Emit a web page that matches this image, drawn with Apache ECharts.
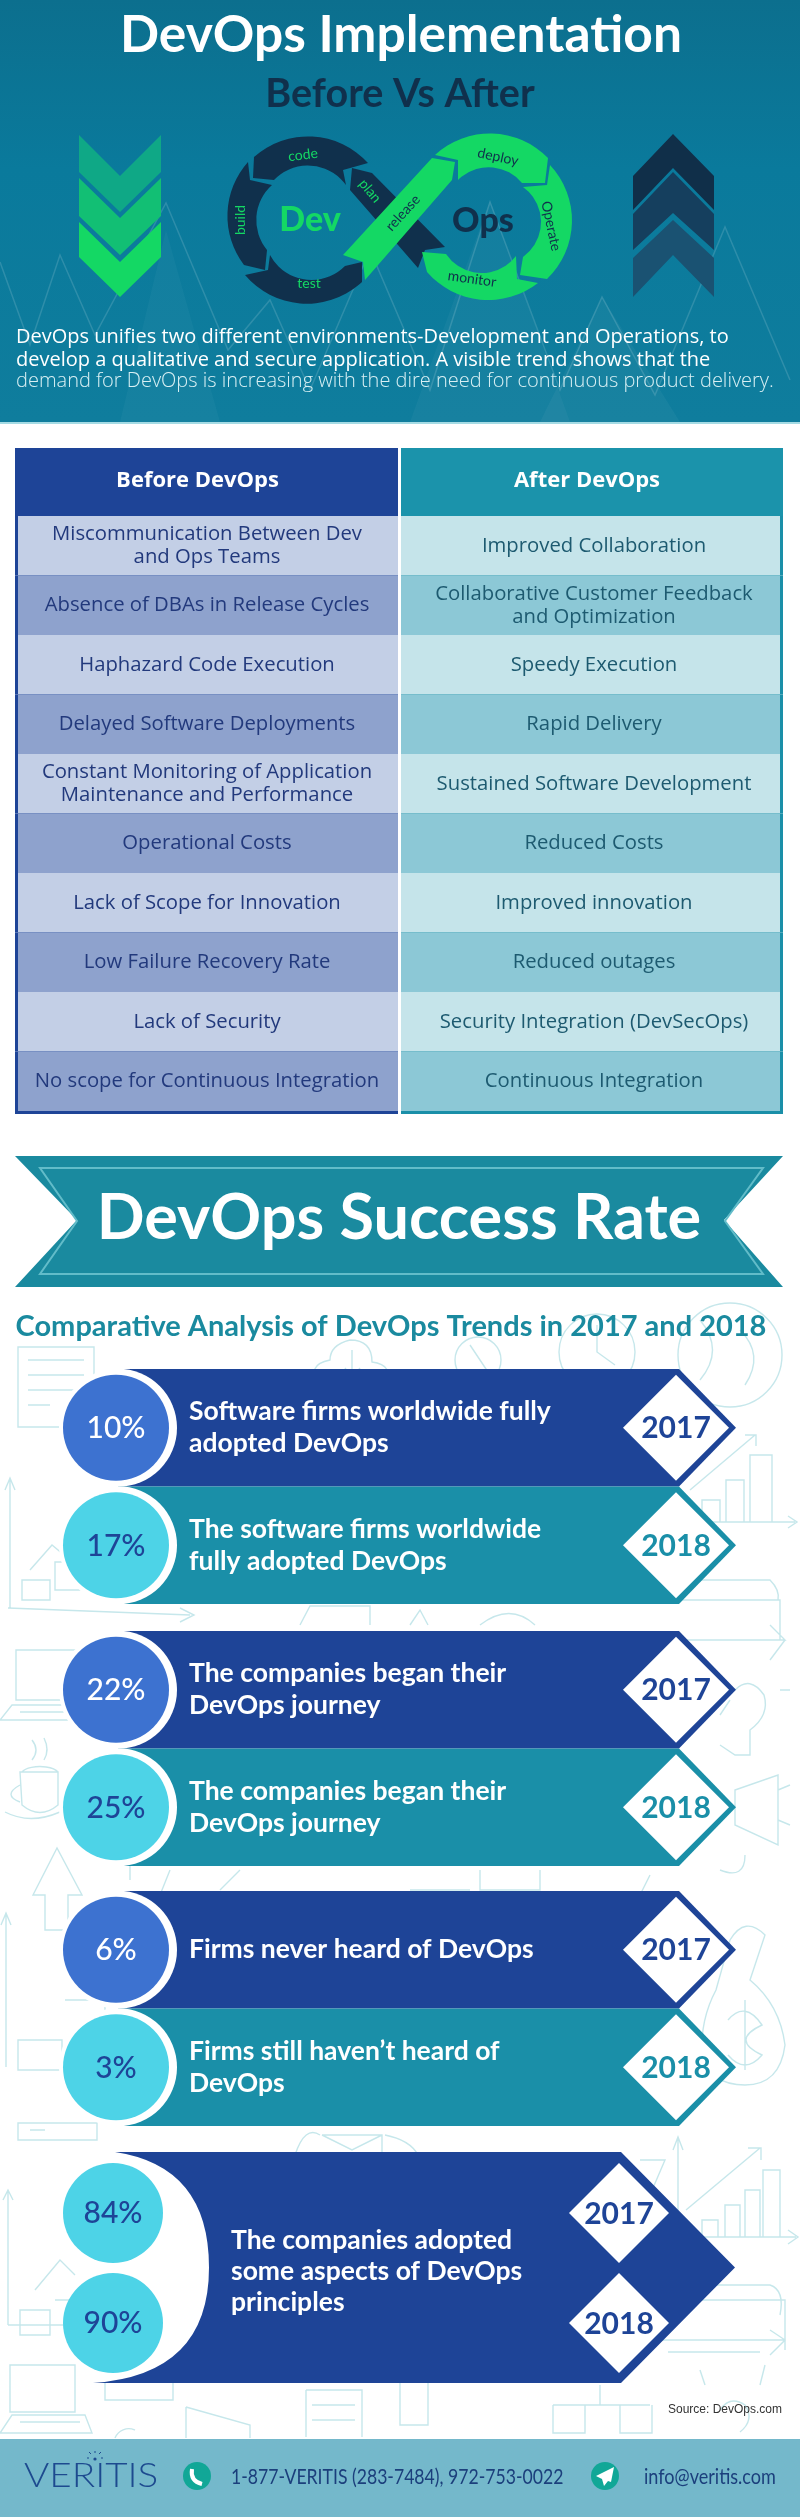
<!DOCTYPE html>
<html lang="en">
<head>
    <meta charset="UTF-8">
    <title>DevOps Implementation</title>
    <style>
        html, body {
            margin: 0;
            height: 100%;
            background: #fff;
        }
        #main {
            width: 800px;
            height: 2517px;
        }
    </style>
    <script src="https://cdn.jsdelivr.net/npm/echarts@6/dist/echarts.min.js"></script>
</head>
<body>
    <div id="main"></div>
    <script>
        // table
        const tableColumns = ['Before DevOps', 'After DevOps']
        const beforeItems = [
            'Miscommunication Between Dev\nand Ops Teams',
            'Absence of DBAs in Release Cycles',
            'Haphazard Code Execution',
            'Delayed Software Deployments',
            'Constant Monitoring of Application\nMaintenance and Performance',
            'Operational Costs',
            'Lack of Scope for Innovation',
            'Low Failure Recovery Rate',
            'Lack of Security',
            'No scope for Continuous Integration'
        ]
        const afterItems = [
            'Improved Collaboration',
            'Collaborative Customer Feedback\nand Optimization',
            'Speedy Execution',
            'Rapid Delivery',
            'Sustained Software Development',
            'Reduced Costs',
            'Improved innovation',
            'Reduced outages',
            'Security Integration (DevSecOps)',
            'Continuous Integration'
        ]

        // comparison rows, two per group
        const years = ['2017', '2018']
        const groupLabels = [
            ['Software firms worldwide fully\nadopted DevOps', 'The software firms worldwide\nfully adopted DevOps'],
            ['The companies began their\nDevOps journey', 'The companies began their\nDevOps journey'],
            ['Firms never heard of DevOps', 'Firms still haven\u2019t heard of\nDevOps']
        ]
        const groupPercents = [
            [10, 17],
            [22, 25],
            [6, 3]
        ]
        const adoptedLabel = 'The companies adopted\nsome aspects of DevOps\nprinciples'
        const adoptedPercents = [84, 90]

        const BLUE = '#1e4497'
        const TEAL = '#1a8fa8'
        const FONT = 'Lato, "Noto Sans", sans-serif'
        const WIDE_FONT = '"Open Sans", "Noto Sans", sans-serif'

        const chartDom = document.getElementById('main')
        const myChart = echarts.init(chartDom)

        function text (str, x, y, size, fill, extra) {
            return {
                type: 'text',
                x, y,
                rotation: extra && extra.rot ? extra.rot * Math.PI / 180 : 0,
                scaleX: (extra && extra.scaleX) || 1,
                style: {
                    text: str,
                    x: 0,
                    y: 0,
                    fill,
                    align: (extra && extra.align) || 'center',
                    verticalAlign: 'middle',
                    fontFamily: (extra && extra.family) || FONT,
                    fontSize: size,
                    fontWeight: (extra && extra.weight) || 'normal',
                    lineHeight: extra && extra.lineHeight
                }
            }
        }
        function fillPath (d, fill) {
            return { type: 'path', shape: { pathData: d }, style: { fill } }
        }
        function linePath (d, stroke, width) {
            return { type: 'path', shape: { pathData: d }, style: { fill: 'none', stroke, lineWidth: width } }
        }

        // ---- header panel ----
        const header = [
            {
                type: 'rect', shape: { x: 0, y: 0, width: 800, height: 422 },
                style: {
                    fill: new echarts.graphic.LinearGradient(0, 0, 0, 1, [
                        { offset: 0, color: '#0c6f8e' },
                        { offset: 0.4, color: '#0a7a9c' },
                        { offset: 1, color: '#0f7d9d' }
                    ])
                }
            },
            { type: 'rect', shape: { x: 0, y: 422, width: 800, height: 2 }, style: { fill: '#a5dbe4' } },
            fillPath('M410 422 L490 200 L570 422 Z', 'rgba(255,255,255,0.035)'),
            fillPath('M120 422 L166 230 L220 422 Z', 'rgba(255,255,255,0.03)'),
            fillPath('M540 422 L602 297 L680 422 Z', 'rgba(255,255,255,0.04)'),
            linePath('M0 262 L30 345 L60 255 L95 335 L166 203 L228 350 L270 300 L310 390 L370 250 L430 390 L490 202 L560 390 L602 297 L655 395 L725 227 L790 380', 'rgba(255,255,255,0.14)', 1.5),
            fillPath('M79 135 L120 176 L161 135 V172 L120 212 L79 172 Z', '#0fa886'),
            fillPath('M79 178 L120 218 L161 178 V216 L120 255 L79 216 Z', '#12bf74'),
            fillPath('M79 222 L120 262 L161 222 V257 L120 297 L79 257 Z', '#14d864'),
            fillPath('M633 176 L673 134 L714 176 V210 L673 168 L633 210 Z', '#102f49'),
            fillPath('M633 214 L673 172 L714 214 V250 L673 213 L633 250 Z', '#153f5e'),
            fillPath('M633 258 L673 220 L714 258 V297 L673 255 L633 297 Z', '#1a5272'),
            // devops loop
            fillPath('M352 168 L372 173 L445 247 L425 250 L418 268 L398 245 L350 190 Z', '#10304c'),
            fillPath('M368 163 A81 81 0 0 0 254 157 L253 178 L274 180 A47 47 0 0 1 346 185 L343 170 Z', '#10304c'),
            fillPath('M248 162 A81 81 0 0 0 244 265 L265 270 L267 250 A47 47 0 0 1 272 185 L250 180 Z', '#10304c'),
            fillPath('M245 275 A81 81 0 0 0 362 282 L362 262 L345 266 A47 47 0 0 1 270 255 L268 270 Z', '#10304c'),
            fillPath('M435 155 A81 81 0 0 1 548 158 L545 183 L522 183 A43 43 0 0 0 458 180 L458 160 Z', '#14d864'),
            fillPath('M550 165 A81 81 0 0 1 547 279 L520 275 L523 257 A43 43 0 0 0 523 187 L547 185 Z', '#14d864'),
            fillPath('M538 283 A81 81 0 0 1 427 272 L422 252 L446 254 A43 43 0 0 0 516 256 L517 279 Z', '#14d864'),
            fillPath('M343 255 L432 158 L455 162 L452 180 L365 280 L363 262 Z', '#14d864'),
            text('code', 303, 155, 14, '#14d864', { rot: 7 }),
            text('plan', 370, 191, 14, '#14d864', { rot: -50 }),
            text('build', 240, 220, 14, '#14d864', { rot: 90 }),
            text('test', 309, 283, 14, '#14d864'),
            text('release', 403, 213, 14, '#10304c', { rot: 48 }),
            text('deploy', 498, 157, 14, '#10304c', { rot: -12 }),
            text('Operate', 551, 226, 14, '#10304c', { rot: -78 }),
            text('monitor', 472, 279, 14, '#10304c', { rot: -8 }),
            text('Dev', 310, 220, 34, '#14d864', { weight: 900 }),
            text('Ops', 483, 221, 34, '#10304c', { weight: 900 }),
            text('DevOps Implementation', 401, 35, 51.5, '#fff', { weight: 700 }),
            text('Before Vs After', 400, 94, 39.5, '#10304c', { weight: 700 }),
            text('DevOps unifies two different environments-Development and Operations, to', 16, 337, 20, '#fff', { align: 'left', family: WIDE_FONT }),
            text('develop a qualitative and secure application. A visible trend shows that the', 16, 360, 20, '#fff', { align: 'left', family: WIDE_FONT }),
            text('demand for DevOps is increasing with the dire need for continuous product delivery.', 16, 381, 20, '#d9f0f4', { align: 'left', family: WIDE_FONT, weight: 300 })
        ]

        // ---- ribbon and headings ----
        const ribbon = [
            fillPath('M15 1156 H783 L724 1220 L783 1287 H15 L77 1220 Z', '#1a8a9f'),
            linePath('M40 1168 H763 L725 1221 L763 1274 H40 L77 1221 Z', '#62bcc9', 2),
            text('DevOps Success Rate', 399, 1219, 63, '#fff', { weight: 700 }),
            text('Comparative Analysis of DevOps Trends in 2017 and 2018', 391, 1327, 29, '#1a8a9f', { weight: 700 })
        ]

        // ---- faint doodles behind the rows ----
        const DOODLE = '#c6e7eb'
        const doodlePaths = [
            'M18 1347 H94 V1427 H18 Z M28 1360 H84 M28 1375 H84 M28 1390 H84 M28 1405 H50',
            'M350 1340 Q372 1340 372 1362 Q395 1365 385 1385 H320 Q305 1365 330 1360 Q330 1345 350 1340 Z M352 1350 V1375 M345 1368 L352 1378 L360 1368',
            'M455 1360 A23 23 0 1 1 501 1360 A23 23 0 1 1 455 1360 M495 1375 L515 1395 M470 1345 L490 1375',
            'M559 1352 A38 38 0 1 1 635 1352 A38 38 0 1 1 559 1352 M597 1325 V1352 L615 1365',
            'M678 1355 A52 52 0 1 1 782 1355 A52 52 0 1 1 678 1355 M700 1320 Q725 1350 700 1380 M740 1330 Q765 1355 745 1385',
            'M10 1480 V1608 M5 1490 L10 1478 L15 1490 M8 1608 L190 1615 M180 1608 L194 1615 L180 1622',
            'M22 1600 H50 V1580 H22 Z M55 1590 H80 V1562 H55 Z M85 1590 H115 V1570 H85 Z M30 1570 L52 1545 L70 1560',
            'M690 1490 L755 1435 M745 1435 H756 V1446 M702 1522 V1500 H720 V1522 M726 1522 V1480 H744 V1522 M750 1522 V1455 H772 V1522 M670 1522 H795 M788 1516 L797 1522 L788 1528',
            'M665 1600 H780 V1640 H668 M690 1580 H770 Q780 1590 778 1600 M720 1640 H785 L770 1625 M785 1640 L770 1660',
            'M300 1625 L310 1606 H370 V1625 M410 1625 L420 1610 L428 1625 M480 1625 Q510 1602 535 1625',
            'M16 1650 H80 V1700 H16 Z M0 1720 L12 1705 H86 L90 1720 Z M20 1712 H80',
            'M20 1772 H58 V1805 Q40 1820 22 1805 Z M20 1785 Q2 1795 20 1802 M22 1772 A19 8 0 0 1 58 1772 M32 1740 Q40 1750 32 1760 M44 1738 Q50 1750 44 1760 M5 1812 Q30 1825 60 1812',
            'M735 1690 Q750 1675 764 1695 Q770 1715 750 1730 V1755 H735 L720 1745 M780 1690 H790 M730 1700 L720 1715',
            'M735 1790 L778 1775 V1845 L735 1825 Z M778 1790 L790 1785 M778 1820 L790 1825 M720 1870 Q745 1880 745 1855',
            'M33 1895 L57 1848 L82 1895 H68 V1930 H45 V1895 Z M6 1913 V2067 M1 1925 L6 1913 L11 1925',
            'M115 1865 H130 V1880 M170 1870 L160 1895 M240 1870 L220 1890 M480 1870 V1890 H540 V1870 M410 1890 H470 M650 1875 L640 1895',
            'M18 2040 H62 V2070 H18 Z M65 2000 H105 V2060',
            'M716 1990 Q700 2020 702 2055 Q710 2085 745 2085 Q780 2085 785 2045 Q780 2005 750 1980 L765 1935 Q745 1915 730 1940 Z M745 2000 V2070 M728 2020 Q745 2000 762 2025 Q730 2040 762 2055 Q745 2075 728 2055',
            'M18 2123 H97 V2140 H18 Z M30 2130 H45',
            'M322 2135 H382 V2155 M322 2135 L352 2150 L382 2135 M295 2155 Q305 2125 320 2135 M385 2135 Q410 2140 418 2155',
            'M678 2137 V2237 M673 2150 L678 2137 L683 2150 M686 2210 L760 2148 M748 2148 H761 V2160 M702 2237 V2220 H718 V2237 M725 2237 V2205 H740 V2237 M745 2237 V2190 H760 V2237 M763 2237 V2170 H780 V2237 M678 2237 H796 M788 2230 L798 2237 L788 2244',
            'M640 2160 L665 2160 L650 2195',
            'M8 2190 V2325 M3 2200 L8 2190 L13 2200 M35 2290 L60 2260 L75 2275 M20 2310 H50 V2335 H20 Z M55 2300 H85 V2330 M8 2325 H90',
            'M640 2340 H785 V2300 H680 V2285 H770 Q785 2290 780 2315 M668 2352 H760 M785 2340 V2350 M770 2330 L785 2340 L770 2355',
            'M10 2365 H75 V2412 H10 Z M0 2433 L12 2415 H85 L92 2433 Z M20 2422 H80',
            'M105 2383 V2400 H173 V2383 M186 2407 L250 2425 V2438 M186 2407 V2438 M115 2438 A15 15 0 0 1 135 2430',
            'M306 2390 H362 V2437 M306 2390 V2437 M312 2405 H355 M312 2420 H355 M400 2383 V2425 H428 V2383',
            'M600 2385 V2405 M553 2405 H650 M553 2405 V2433 H585 V2405 M620 2405 V2433 H652 V2405',
            'M720 2410 Q730 2395 745 2405 Q755 2420 740 2432 M760 2385 L765 2365 M705 2385 L700 2370'
        ]
        const doodles = doodlePaths.map(d => linePath(d, DOODLE, 1.4))

        // ---- footer ----
        const footer = [
            { type: 'rect', shape: { x: 0, y: 2439, width: 800, height: 78 }, style: { fill: '#74b8cb' } },
            text('VERITIS', 24, 2476, 33, '#1d4a8f', { align: 'left', weight: 300, scaleX: 1.17 }),
            { type: 'circle', shape: { cx: 95, cy: 2459, r: 1.6 }, style: { fill: '#1d4a8f' } },
            linePath('M89 2458 H87 M103 2458 H101 M95 2453 V2451 M91 2454 L89 2452 M99 2454 L101 2452', '#1d4a8f', 1),
            { type: 'circle', shape: { cx: 197, cy: 2476, r: 14 }, style: { fill: '#11a797' } },
            linePath('M192 2469 Q190 2481 202 2484', '#fff', 4),
            { type: 'circle', shape: { cx: 605, cy: 2476, r: 14 }, style: { fill: '#11a797' } },
            fillPath('M614 2467 L596 2476 L602 2479 L604 2486 L608 2481 L611 2482 Z', '#fff'),
            text('1-877-VERITIS (283-7484), 972-753-0022', 231, 2477, 21.5, '#1b3f7c', { align: 'left', scaleX: 0.82 }),
            text('info@veritis.com', 644, 2477, 21.5, '#1b3f7c', { align: 'left', scaleX: 0.84 }),
            text('Source: DevOps.com', 782, 2410, 12, '#333', { align: 'right', family: '"Liberation Sans Narrow", "Liberation Sans", sans-serif' })
        ]

        function drawingSeries (children, z) {
            return {
                type: 'custom',
                coordinateSystem: 'none',
                silent: true,
                z,
                data: [[0]],
                renderItem () {
                    return { type: 'group', children }
                }
            }
        }

        // ---- table cells ----
        function renderHeaderCell (params, api) {
            const col = params.dataIndex
            const p = api.coord([col, 0])
            const size = api.size([1, 1])
            const left = col === 0 ? p[0] - size[0] / 2 : p[0] - size[0] / 2 + 2
            const width = size[0] - (col === 0 ? 1 : 2)
            return {
                type: 'group',
                children: [
                    { type: 'rect', shape: { x: left, y: p[1] - size[1] / 2, width, height: size[1] }, style: { fill: col === 0 ? BLUE : '#1b93ab' } },
                    text(tableColumns[col], col === 0 ? 197.5 : 587, p[1] - 1, 22, '#fff', { weight: 700, family: WIDE_FONT })
                ]
            }
        }
        function renderBodyCell (params, api) {
            const col = api.value(0)
            const row = api.value(1)
            const p = api.coord([col, row])
            const size = api.size([1, 1])
            const top = p[1] - size[1] / 2
            const left = p[0] - size[0] / 2 + (col === 0 ? 0 : 2)
            const width = size[0] - (col === 0 ? 1 : 2)
            const last = row === beforeItems.length - 1
            const light = row % 2 === 0
            const fills = col === 0 ? [light ? '#c3cfe6' : '#8ea2cd', BLUE] : [light ? '#c5e4ea' : '#8cc8d6', TEAL]
            const items = col === 0 ? beforeItems : afterItems
            return {
                type: 'group',
                children: [
                    { type: 'rect', shape: { x: left, y: top, width, height: size[1] + (last ? 3 : 0) }, style: { fill: fills[1] } },
                    {
                        type: 'rect',
                        shape: { x: col === 0 ? left + 3 : left, y: top, width: width - 3, height: size[1] },
                        style: { fill: fills[0] }
                    },
                    text(items[row], col === 0 ? 207 : 594, p[1], 20.3, col === 0 ? '#22397c' : '#1d5a70', { lineHeight: 23, family: WIDE_FONT })
                ]
            }
        }

        // ---- comparison rows ----
        function renderYearDiamond (cx, cy, w, h, year, color) {
            return [
                { type: 'polygon', shape: { points: [[cx - w, cy], [cx, cy - h], [cx + w, cy], [cx, cy + h]] }, style: { fill: '#fff' } },
                text(year, cx, cy + 1, 30, color, { weight: 700 })
            ]
        }
        function makeRowRenderer (group) {
            return function (params, api) {
                const i = params.dataIndex
                const p = api.coord([0, i])
                const h = api.size([0, 1])[1]
                const cy = p[1]
                const top = cy - h / 2
                const bottom = cy + h / 2
                const dark = i === 0
                const color = dark ? BLUE : TEAL
                const end = api.coord([679, i])[0]
                const tip = api.coord([736, i])[0]
                const startX = api.coord([118, i])[0]
                return {
                    type: 'group',
                    children: [
                        { type: 'polygon', shape: { points: [[startX, top], [end, top], [tip, cy], [end, bottom], [startX, bottom]] }, style: { fill: color } },
                        { type: 'circle', shape: { cx: startX, cy, r: 59 }, style: { fill: '#fff' } },
                        { type: 'circle', shape: { cx: startX - 2, cy, r: 53 }, style: { fill: dark ? '#3d72d0' : '#4dd3e7' } },
                        text(groupPercents[group][i] + '%', startX - 2, cy + 1, 30, dark ? '#fff' : BLUE, { weight: 500 }),
                        text(groupLabels[group][i], 189, cy, 26.5, '#fff', { align: 'left', weight: 700, lineHeight: 32 })
                    ].concat(renderYearDiamond(676, cy, 53, 53, years[i], color))
                }
            }
        }
        function renderAdoptedPanel (params, api) {
            const top = api.coord([0, 0])[1] - api.size([0, 1])[1] / 2 - 6
            const bottom = api.coord([0, 1])[1] + api.size([0, 1])[1] / 2 + 5
            const mid = (top + bottom) / 2
            const d = 'M115 ' + top + ' H621 L735 ' + mid + ' L621 ' + bottom + ' H93 Q209 ' + (bottom - 8) + ' 209 ' + mid + ' Q209 ' + (top + 14) + ' 115 ' + top + ' Z'
            return {
                type: 'group',
                children: [
                    { type: 'path', shape: { pathData: d }, style: { fill: BLUE } },
                    text(adoptedLabel, 231, mid + 4, 26.5, '#fff', { align: 'left', weight: 700, lineHeight: 31 })
                ]
            }
        }
        function renderAdoptedRow (params, api) {
            const i = params.dataIndex
            const cy = api.coord([0, i])[1]
            return {
                type: 'group',
                children: [
                    { type: 'circle', shape: { cx: 113, cy, r: 50 }, style: { fill: '#4dd3e7' } },
                    text(adoptedPercents[i] + '%', 113, cy, 30, BLUE, { weight: 500 })
                ].concat(renderYearDiamond(619, cy, 50, 50, years[i], BLUE))
            }
        }

        const statGrids = [
            { left: 0, right: 0, top: 1369, height: 235 },
            { left: 0, right: 0, top: 1631, height: 235 },
            { left: 0, right: 0, top: 1891, height: 235 },
            { left: 0, right: 0, top: 2158, height: 220 }
        ]
        const statAxes = statGrids.map((g, i) => ({
            x: { type: 'value', gridIndex: i + 2, min: 0, max: 800, show: false },
            y: { type: 'category', gridIndex: i + 2, data: years, inverse: true, show: false }
        }))
        const rowIndexes = years.map((y, i) => [0, i])

        const bodyCells = []
        beforeItems.forEach((item, row) => {
            bodyCells.push([0, row])
            bodyCells.push([1, row])
        })
        const rowNames = beforeItems.map((item, row) => row)

        const options = {
            animation: false,
            backgroundColor: '#fff',
            grid: [
                { left: 15, width: 768, top: 448, height: 68 },
                { left: 15, width: 768, top: 516, height: 595 }
            ].concat(statGrids),
            xAxis: [
                { type: 'category', gridIndex: 0, data: tableColumns, show: false },
                { type: 'category', gridIndex: 1, data: tableColumns, show: false }
            ].concat(statAxes.map(a => a.x)),
            yAxis: [
                { type: 'category', gridIndex: 0, data: ['header'], show: false },
                { type: 'category', gridIndex: 1, data: rowNames, inverse: true, show: false }
            ].concat(statAxes.map(a => a.y)),
            series: [
                drawingSeries(doodles, 0),
                drawingSeries(header.concat(ribbon, footer), 1),
                {
                    type: 'custom', silent: true, xAxisIndex: 0, yAxisIndex: 0, z: 2,
                    renderItem: renderHeaderCell,
                    encode: { x: 0, y: 1 },
                    data: [[0, 0], [1, 0]]
                },
                {
                    type: 'custom', silent: true, xAxisIndex: 1, yAxisIndex: 1, z: 2,
                    renderItem: renderBodyCell,
                    encode: { x: 0, y: 1 },
                    data: bodyCells
                }
            ].concat(groupLabels.map((labels, g) => ({
                type: 'custom', silent: true, xAxisIndex: g + 2, yAxisIndex: g + 2, z: 2,
                renderItem: makeRowRenderer(g),
                encode: { x: 0, y: 1 },
                data: rowIndexes
            })), [
                {
                    type: 'custom', silent: true, xAxisIndex: 5, yAxisIndex: 5, z: 2,
                    renderItem: renderAdoptedPanel,
                    encode: { x: 0, y: 1 },
                    data: [[0, 0]]
                },
                {
                    type: 'custom', silent: true, xAxisIndex: 5, yAxisIndex: 5, z: 3,
                    renderItem: renderAdoptedRow,
                    encode: { x: 0, y: 1 },
                    data: rowIndexes
                }
            ])
        }

        myChart.setOption(options)
    </script>
</body>
</html>
